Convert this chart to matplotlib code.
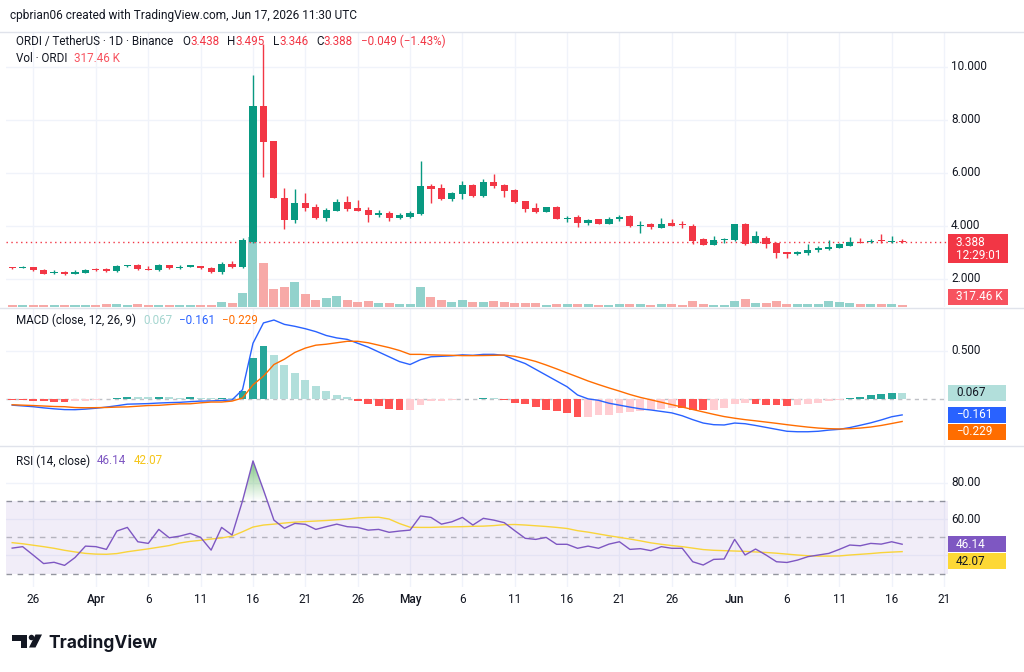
import numpy as np
import pandas as pd
import matplotlib
matplotlib.use("Agg")
import matplotlib.pyplot as plt
from matplotlib.patches import Rectangle, Ellipse, Polygon
from matplotlib.lines import Line2D
from matplotlib.colors import LinearSegmentedColormap
from matplotlib.path import Path
from matplotlib import transforms

plt.rcParams['font.family'] = ['Roboto', 'DejaVu Sans']

# ---- data (ORDI/USDT daily, Binance) ----
dates = pd.date_range('2026-03-24', '2026-06-17', freq='D')

opens = [2.43, 2.43, 2.45, 2.35, 2.23, 2.26, 2.19, 2.23, 2.36, 2.36,
         2.29, 2.48, 2.54, 2.38, 2.33, 2.53, 2.43, 2.47, 2.49, 2.43,
         2.25, 2.57, 2.44, 3.41, 8.53, 7.21, 5.05, 4.23, 4.86, 4.73,
         4.29, 4.58, 4.91, 4.68, 4.60, 4.40, 4.50, 4.29, 4.35, 4.45,
         5.51, 5.43, 5.02, 5.21, 5.53, 5.13, 5.65, 5.53, 5.36, 4.93,
         4.68, 4.54, 4.70, 4.25, 4.33, 4.10, 4.25, 4.08, 4.25, 4.39,
         4.01, 4.06, 3.94, 4.11, 4.04, 4.01, 3.51, 3.30, 3.46, 3.47,
         4.06, 3.36, 3.56, 3.36, 3.01, 2.94, 2.99, 3.08, 3.14, 3.18,
         3.26, 3.41, 3.39, 3.46, 3.405, 3.438]
highs = [2.45, 2.50, 2.46, 2.36, 2.33, 2.29, 2.33, 2.36, 2.40, 2.40,
         2.53, 2.54, 2.55, 2.50, 2.57, 2.54, 2.53, 2.50, 2.50, 2.44,
         2.63, 2.69, 3.54, 9.70, 10.85, 7.22, 5.42, 5.38, 5.23, 4.82,
         4.69, 5.01, 5.13, 4.98, 4.73, 4.60, 4.55, 4.48, 4.56, 6.46,
         5.58, 5.58, 5.30, 5.69, 5.58, 5.76, 5.95, 5.58, 5.38, 4.93,
         4.86, 4.72, 4.76, 4.39, 4.43, 4.28, 4.27, 4.33, 4.40, 4.43,
         4.20, 4.10, 4.31, 4.26, 4.19, 4.06, 3.56, 3.61, 3.55, 4.09,
         4.12, 3.81, 3.61, 3.38, 3.03, 3.05, 3.31, 3.26, 3.46, 3.35,
         3.58, 3.53, 3.50, 3.69, 3.64, 3.495]
lows = [2.38, 2.41, 2.32, 2.18, 2.18, 2.14, 2.18, 2.21, 2.30, 2.25,
        2.28, 2.47, 2.35, 2.34, 2.31, 2.39, 2.38, 2.46, 2.39, 2.24,
        2.20, 2.43, 2.43, 3.36, 5.84, 5.04, 3.88, 4.10, 4.58, 4.28,
        4.20, 4.55, 4.58, 4.56, 4.14, 4.33, 4.18, 4.27, 4.31, 4.43,
        4.88, 4.99, 4.95, 5.01, 5.11, 5.11, 5.43, 5.11, 4.86, 4.54,
        4.48, 4.52, 4.26, 4.14, 3.95, 4.03, 4.07, 4.07, 4.19, 3.98,
        3.72, 3.88, 3.94, 4.00, 3.91, 3.33, 3.28, 3.27, 3.36, 3.45,
        3.30, 3.35, 3.18, 2.80, 2.78, 2.90, 2.91, 3.03, 3.10, 3.16,
        3.25, 3.36, 3.34, 3.35, 3.36, 3.346]
closes = [2.40, 2.46, 2.33, 2.19, 2.26, 2.18, 2.26, 2.35, 2.33, 2.29,
          2.49, 2.53, 2.36, 2.35, 2.53, 2.40, 2.47, 2.49, 2.40, 2.25,
          2.58, 2.44, 3.47, 8.53, 7.18, 5.05, 4.23, 4.86, 4.69, 4.29,
          4.60, 4.91, 4.65, 4.58, 4.40, 4.50, 4.29, 4.40, 4.50, 5.51,
          5.40, 5.02, 5.23, 5.53, 5.13, 5.65, 5.51, 5.33, 4.91, 4.65,
          4.54, 4.70, 4.28, 4.27, 4.10, 4.23, 4.08, 4.28, 4.35, 4.00,
          4.03, 3.95, 4.08, 4.01, 4.02, 3.42, 3.30, 3.47, 3.49, 4.06,
          3.32, 3.61, 3.33, 2.99, 2.94, 3.02, 3.11, 3.16, 3.22, 3.31,
          3.41, 3.37, 3.44, 3.42, 3.437, 3.388]
volume_k = [300, 300, 300, 300, 300, 300, 300, 300, 300, 450,
            450, 300, 450, 300, 300, 300, 300, 300, 300, 300,
            750, 600, 2100, 10500, 6600, 2750, 2950, 3700, 1950, 1050,
            1350, 1650, 1050, 750, 900, 600, 600, 450, 450, 2950,
            1500, 1050, 750, 1050, 750, 750, 900, 750, 600, 600,
            600, 300, 450, 450, 450, 450, 300, 300, 450, 450,
            450, 300, 450, 450, 300, 900, 450, 300, 300, 900,
            1200, 600, 600, 900, 450, 450, 450, 450, 900, 750,
            600, 450, 450, 450, 450, 317.46]

macd = [-0.060, -0.068, -0.076, -0.088, -0.098, -0.106, -0.107, -0.101, -0.092, -0.080,
        -0.066, -0.050, -0.047, -0.044, -0.038, -0.034, -0.031, -0.024, -0.018, -0.016,
        -0.012, -0.006, 0.100, 0.580, 0.790, 0.820, 0.775, 0.755, 0.730, 0.700,
        0.660, 0.635, 0.620, 0.580, 0.540, 0.490, 0.440, 0.390, 0.360, 0.410,
        0.440, 0.445, 0.450, 0.460, 0.455, 0.465, 0.465, 0.455, 0.410, 0.370,
        0.310, 0.250, 0.190, 0.130, 0.045, 0.005, -0.010, -0.040, -0.060, -0.080,
        -0.098, -0.110, -0.125, -0.140, -0.170, -0.210, -0.245, -0.262, -0.265, -0.245,
        -0.252, -0.270, -0.290, -0.310, -0.330, -0.335, -0.335, -0.330, -0.318, -0.310,
        -0.292, -0.268, -0.243, -0.213, -0.180, -0.161]
signal = [-0.056, -0.060, -0.064, -0.069, -0.074, -0.076, -0.085, -0.087, -0.086, -0.084,
          -0.080, -0.078, -0.071, -0.064, -0.062, -0.054, -0.047, -0.046, -0.036, -0.028,
          -0.028, -0.018, 0.014, 0.150, 0.240, 0.360, 0.415, 0.485, 0.530, 0.560,
          0.570, 0.585, 0.600, 0.600, 0.585, 0.560, 0.535, 0.505, 0.465, 0.465,
          0.460, 0.457, 0.455, 0.452, 0.452, 0.453, 0.455, 0.458, 0.445, 0.420,
          0.392, 0.355, 0.315, 0.273, 0.232, 0.190, 0.153, 0.118, 0.085, 0.050,
          0.020, -0.005, -0.030, -0.055, -0.080, -0.105, -0.130, -0.155, -0.178, -0.195,
          -0.210, -0.222, -0.235, -0.248, -0.262, -0.275, -0.287, -0.297, -0.303, -0.306,
          -0.304, -0.297, -0.286, -0.270, -0.250, -0.229]
hist = [-0.004, -0.008, -0.012, -0.019, -0.024, -0.030, -0.022, -0.014, -0.006, 0.004,
        0.014, 0.028, 0.024, 0.020, 0.024, 0.020, 0.016, 0.022, 0.018, 0.012,
        0.016, 0.012, 0.086, 0.430, 0.550, 0.460, 0.360, 0.270, 0.200, 0.140,
        0.090, 0.050, 0.020, -0.020, -0.045, -0.070, -0.095, -0.115, -0.105, -0.055,
        -0.020, -0.012, -0.005, 0.008, 0.003, 0.012, 0.010, -0.003, -0.035, -0.050,
        -0.082, -0.105, -0.125, -0.143, -0.187, -0.185, -0.163, -0.158, -0.145, -0.130,
        -0.118, -0.105, -0.095, -0.085, -0.090, -0.105, -0.115, -0.107, -0.087, -0.050,
        -0.042, -0.048, -0.055, -0.062, -0.068, -0.060, -0.048, -0.033, -0.015, -0.004,
        0.012, 0.029, 0.043, 0.057, 0.070, 0.067]

rsi = [44.0, 44.8, 40.2, 35.5, 36.2, 34.5, 38.8, 45.1, 44.8, 43.3,
       53.4, 55.4, 47.5, 46.6, 54.3, 49.7, 50.6, 52.1, 49.9, 42.9,
       55.4, 51.2, 70.0, 92.0, 76.0, 59.4, 54.9, 57.6, 57.1, 54.3,
       55.8, 57.2, 55.8, 55.4, 53.9, 54.3, 52.7, 53.4, 53.9, 61.7,
       60.9, 57.2, 58.5, 60.9, 56.7, 60.4, 59.4, 58.0, 53.6, 49.4,
       48.8, 49.9, 46.1, 46.1, 43.9, 45.1, 43.9, 46.2, 47.5, 43.3,
       43.7, 42.6, 44.8, 43.9, 43.9, 36.5, 34.7, 37.8, 38.0, 48.8,
       40.2, 43.5, 40.2, 36.5, 36.1, 37.4, 39.3, 40.2, 41.1, 43.3,
       45.7, 45.3, 46.6, 46.2, 47.5, 46.14]
rsi_ma = [47.0, 46.4, 45.6, 44.8, 43.9, 42.8, 41.9, 41.1, 40.7, 40.6,
          41.0, 42.0, 42.8, 43.6, 44.5, 45.4, 46.8, 47.7, 48.3, 49.0,
          49.6, 50.6, 53.0, 55.6, 56.7, 57.2, 57.8, 58.3, 58.6, 58.9,
          59.2, 59.6, 60.0, 60.6, 60.9, 61.0, 60.0, 57.5, 55.5, 55.4,
          55.4, 55.6, 55.7, 55.8, 56.0, 56.1, 56.4, 56.9, 57.0, 56.7,
          56.3, 55.9, 55.4, 54.8, 53.6, 52.8, 51.8, 50.8, 49.9, 49.0,
          48.0, 46.9, 46.1, 45.4, 44.8, 44.0, 43.2, 42.8, 42.6, 42.4,
          42.2, 41.9, 41.6, 41.2, 40.7, 40.2, 39.8, 39.6, 39.6, 39.7,
          40.2, 40.6, 41.0, 41.5, 41.8, 42.07]

tick_dates = ['2026-03-26', '2026-04-01', '2026-04-06', '2026-04-11', '2026-04-16',
              '2026-04-21', '2026-04-26', '2026-05-01', '2026-05-06', '2026-05-11',
              '2026-05-16', '2026-05-21', '2026-05-26', '2026-06-01', '2026-06-06',
              '2026-06-11', '2026-06-16', '2026-06-21']
tick_labels = ['26', 'Apr', '6', '11', '16', '21', '26', 'May', '6', '11',
               '16', '21', '26', 'Jun', '6', '11', '16', '21']
price_ticks = [2, 4, 6, 8, 10]
macd_ticks = [0.5]
rsi_ticks = [40, 60, 80]

# ---- style ----
UP, DOWN = '#089981', '#f23645'
VOL_UP, VOL_DN = '#92d2cc', '#f7a9a7'
GRID = '#f0f3fa'
TXT = '#131722'
SEP = '#e0e3eb'

W, H = 1024, 672
fig = plt.figure(figsize=(W / 100, H / 100), dpi=100)
fig.patch.set_facecolor('white')

L, R = 6, 948


def pane(top, bottom):
    return fig.add_axes([L / W, 1 - bottom / H, (R - L) / W, (bottom - top) / H])


ax = pane(32, 307)
axm = pane(309, 445)
axr = pane(446, 587)
axv = ax.twinx()

x = np.arange(len(dates))
o, h, l, c = map(np.array, (opens, highs, lows, closes))
vol = np.array(volume_k)
tick_pos = [(pd.Timestamp(d) - dates[0]).days for d in tick_dates]
xlim = (-0.59, 89.38)

# grid
for t in tick_pos:
    for a in (axv, axm, axr):
        a.axvline(t, color=GRID, lw=1, zorder=0)
ptrans = transforms.blended_transform_factory(axv.transAxes, ax.transData)
for p in price_ticks:
    axv.add_line(Line2D([0, 1], [p, p], transform=ptrans, color=GRID, lw=1, zorder=0))
for v in macd_ticks:
    axm.axhline(v, color=GRID, lw=1, zorder=0)
for v in rsi_ticks:
    axr.axhline(v, color=GRID, lw=1, zorder=0)

# volume
up = c >= o
axv.bar(x, vol, width=0.86, color=np.where(up, VOL_UP, VOL_DN), lw=0, zorder=2)
axv.set_ylim(0, vol.max() * 275 / 70)

# candles
col = np.where(up, UP, DOWN)
ax.vlines(x, l, h, colors=col, lw=1, zorder=3)
ax.bar(x, np.maximum(np.abs(c - o), 0.04), bottom=np.minimum(o, c), width=0.68,
       color=col, lw=0, zorder=4)
ax.axhline(c[-1], color=DOWN, lw=1, ls=(0, (1, 2.5)), zorder=2)
ax.set_ylim(0.943, 11.32)
ax.set_zorder(axv.get_zorder() + 1)
ax.patch.set_visible(False)

# MACD
hv = np.array(hist)
hcol = []
for i, v in enumerate(hv):
    prev = hv[i - 1] if i > 0 else 0
    if v >= 0:
        hcol.append('#26a69a' if v > prev else '#b2dfdb')
    else:
        hcol.append('#ffcdd2' if v > prev else '#ff5252')
axm.bar(x, hv, width=0.75, color=hcol, lw=0, zorder=2)
axm.axhline(0, color='#9598a1', lw=1, ls=(0, (3, 3)), alpha=0.6, zorder=1)
axm.plot(x, macd, color='#2962ff', lw=1, zorder=3)
axm.plot(x, signal, color='#ff6d00', lw=1, zorder=3)
axm.set_ylim(-0.472, 0.934)

# RSI
rv = np.array(rsi)
axr.axhspan(30, 70, color='#7e57c2', alpha=0.1, lw=0, zorder=0.5)
for lvl, al in ((70, 0.8), (50, 0.5), (30, 0.8)):
    axr.axhline(lvl, color='#787b86', lw=1, ls=(0, (4, 4)), alpha=al, zorder=1)
fb = axr.fill_between(x, 70, rv, where=rv >= 70, interpolate=True,
                      facecolor='none', edgecolor='none')
cmap = LinearSegmentedColormap.from_list('ob', [(0.30, 0.69, 0.31, 0.0), (0.30, 0.69, 0.31, 0.7)])
img = axr.imshow(np.linspace(0, 1, 100).reshape(-1, 1), extent=(x[0], x[-1], 70, rv.max()),
                 origin='lower', aspect='auto', cmap=cmap, zorder=2)
img.set_clip_path(Path.make_compound_path(*fb.get_paths()), transform=axr.transData)
axr.plot(x, rsi_ma, color='#f9d43a', lw=1, zorder=3)
axr.plot(x, rv, color='#7e57c2', lw=1, zorder=4)
axr.set_ylim(22.6, 100.2)

for a in (ax, axv, axm, axr):
    a.set_xlim(*xlim)
    a.axis('off')

# x labels
for t, lb in zip(tick_pos, tick_labels):
    axr.text(t, -0.092, lb, transform=axr.get_xaxis_transform(), ha='center', va='center',
             fontsize=8.5, color=TXT, fontweight='medium' if lb.isalpha() else 'normal')

# right axis labels
lx = 1 + 3 / (R - L)
for p in price_ticks:
    ax.text(lx, p, f"{p:.3f}", transform=ax.get_yaxis_transform(), va='center', fontsize=8.5, color=TXT)
for v in macd_ticks:
    axm.text(lx, v, f"{v:.3f}", transform=axm.get_yaxis_transform(), va='center', fontsize=8.5, color=TXT)
for v in rsi_ticks[1:]:
    axr.text(lx, v, f"{v:.2f}", transform=axr.get_yaxis_transform(), va='center', fontsize=8.5, color=TXT)


def ypix(a, val):
    return a.transData.transform((0, val))[1]


def sgn(v, nd):
    return f"{v:.{nd}f}".replace('-', '\u2212')


def box(yc, hgt, fc, lines, tc, x0=948, x1=1006):
    fig.add_artist(Rectangle((x0 / W, (yc - hgt / 2) / H), (x1 - x0) / W, hgt / H,
                             transform=fig.transFigure, fc=fc, ec='none', zorder=5))
    for dy, s in lines:
        fig.text((x0 + 8) / W, (yc + dy) / H, s, color=tc, fontsize=8.5, va='center', zorder=6)


yp = ypix(ax, c[-1])
box(yp - 6.5, 29, DOWN, [(6.5, f"{c[-1]:.3f}"), (-7, "12:29:01")], 'white', x1=1008)
ybot = 672 - 307
box(ybot + 10, 16, '#f7525f', [(0, f"{vol[-1]:.2f} K")], 'white', x1=1008)

y1 = ypix(axm, hv[-1])
y2 = min(ypix(axm, macd[-1]), y1 - 17)
y3 = min(ypix(axm, signal[-1]), y2 - 17)
box(y1, 16, '#b2dfdb', [(0, sgn(hv[-1], 3))], TXT)
box(y2, 16, '#2962ff', [(0, sgn(macd[-1], 3))], 'white')
box(y3, 16, '#ff6d00', [(0, sgn(signal[-1], 3))], 'white')
r1 = ypix(axr, rsi[-1])
r2 = min(ypix(axr, rsi_ma[-1]), r1 - 17)
box(r1, 16, '#7e57c2', [(0, f"{rsi[-1]:.2f}")], 'white')
box(r2, 16, '#fdd835', [(0, f"{rsi_ma[-1]:.2f}")], TXT)

# separators
for yy in (32, 308, 446):
    fig.add_artist(Line2D([0, 1], [1 - yy / H] * 2, color=SEP, lw=1))

# header + legends
fig.text(10 / W, 1 - 15 / H, "cpbrian06 created with TradingView.com, Jun 17, 2026 11:30 UTC",
         fontsize=8.6, color=TXT, va='center')
rend = fig.canvas.get_renderer()


def runs(x0, y0, parts, fs=8.4):
    xx = x0
    for s, colr, gap in parts:
        xx += gap
        t = fig.text(xx / W, 1 - y0 / H, s, color=colr, fontsize=fs, va='center', ha='left')
        xx += t.get_window_extent(renderer=rend).width


chg = c[-1] - c[-2]
pct = chg / c[-2] * 100
runs(16, 41.5, [("ORDI / TetherUS \u00b7 1D \u00b7 Binance", TXT, 0),
                ("O", TXT, 9), (f"{o[-1]:.3f}", DOWN, 0),
                ("H", TXT, 8), (f"{h[-1]:.3f}", DOWN, 0),
                ("L", TXT, 8), (f"{l[-1]:.3f}", DOWN, 0),
                ("C", TXT, 8), (f"{c[-1]:.3f}", DOWN, 0),
                (f"{sgn(chg, 3)} ({sgn(pct, 2)}%)", DOWN, 8)])
runs(16, 58, [("Vol \u00b7 ORDI", TXT, 0), (f"{vol[-1]:.2f} K", '#f7525f', 7)])
runs(16, 320, [("MACD (close, 12, 26, 9)", TXT, 0), (sgn(hv[-1], 3), '#a5d6d0', 7),
               (sgn(macd[-1], 3), '#2962ff', 7), (sgn(signal[-1], 3), '#ff6d00', 7)])
runs(16, 461, [("RSI (14, close)", TXT, 0), (f"{rsi[-1]:.2f}", '#7e57c2', 7),
               (f"{rsi_ma[-1]:.2f}", '#f5c518', 7)])


# TradingView logo
def fr(px, py):
    return (px / W, 1 - py / H)


fig.add_artist(Rectangle(fr(12, 640.5), 15 / W, 6 / H, transform=fig.transFigure, fc='#131722', ec='none'))
fig.add_artist(Rectangle(fr(20.5, 647.5), 6.5 / W, 13 / H, transform=fig.transFigure, fc='#131722', ec='none'))
fig.add_artist(Ellipse(fr(31.5, 637.5), 5.5 / W, 5.5 / H, transform=fig.transFigure, fc='#131722', ec='none'))
fig.add_artist(Polygon([fr(35.5, 634.5), fr(42, 634.5), fr(35.5, 647.5), fr(29, 647.5)],
                       closed=True, transform=fig.transFigure, fc='#131722', ec='none'))
fig.text(48 / W, 1 - 647.5 / H, "TradingView", fontsize=12.5, fontweight='bold',
         family=['Inter', 'DejaVu Sans'], color='#131722', va='baseline')

fig.savefig('out.png', dpi=100, facecolor='white')
